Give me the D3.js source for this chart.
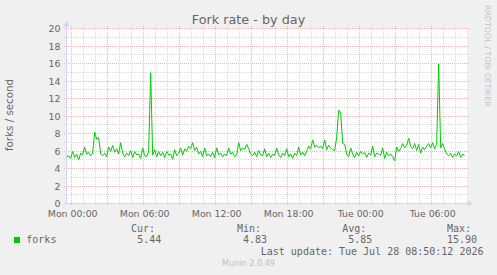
<!DOCTYPE html>
<html>
<head>
<meta charset="utf-8">
<script src="https://cdn.jsdelivr.net/npm/d3@7"></script>
<style>
  html, body { margin: 0; padding: 0; background: #f0f0f0; }
  svg { display: block; }
</style>
</head>
<body>
<svg></svg>
<script>
const WIDTH = 497;
const HEIGHT = 275;
const PLOT = { left: 67, right: 467, top: 28, bottom: 203 };

// samples every 10 minutes, first one Sun 26 Jul 23:35 UTC
const sampleStart = Date.UTC(2026, 6, 26, 23, 35);
const sampleMinutes = 10;
const forks = [
  5.3, 5.4, 5.1, 5.9, 5.2, 5.6, 4.9, 5.7, 5.5, 6.4, 5.6, 5.8,
  5.4, 5.7, 8.1, 7.3, 7.5, 5.6, 5.4, 5.7, 5.3, 6.4, 5.9, 6.6,
  5.8, 6.2, 5.6, 6.9, 5.7, 5.3, 5.7, 5.4, 6.0, 5.2, 5.9, 5.5,
  5.6, 5.1, 6.3, 5.4, 5.3, 5.9, 14.9, 5.5, 6.1, 5.3, 5.9, 5.4,
  5.8, 5.2, 5.9, 5.5, 5.6, 5.0, 6.1, 5.4, 5.7, 6.3, 5.5, 6.2,
  5.9, 6.5, 6.2, 6.9, 6.0, 6.4, 5.6, 5.9, 5.3, 6.3, 5.4, 5.6,
  5.3, 5.8, 5.2, 6.3, 5.5, 5.7, 5.3, 5.6, 5.4, 6.3, 5.6, 5.8,
  5.3, 5.5, 6.9, 6.0, 6.3, 6.1, 6.7, 6.2, 5.6, 5.4, 5.8, 5.3,
  6.0, 5.5, 5.4, 6.2, 5.3, 5.7, 5.2, 5.6, 5.4, 6.3, 5.5, 5.2,
  5.7, 5.4, 6.2, 5.3, 5.6, 5.1, 5.7, 5.4, 6.4, 5.5, 5.8, 5.4,
  5.9, 6.5, 6.2, 7.2, 6.4, 6.6, 6.3, 6.5, 6.2, 7.2, 6.1, 6.6,
  6.3, 6.1, 6.0, 7.5, 10.6, 10.4, 6.8, 6.7, 5.6, 5.3, 6.3, 5.6,
  5.2, 5.8, 5.4, 5.9, 5.6, 5.8, 5.2, 5.7, 5.5, 6.5, 5.3, 5.7,
  5.6, 5.4, 6.3, 5.1, 5.8, 5.4, 5.6, 5.3, 4.83, 6.4, 5.9, 6.2,
  6.8, 6.3, 6.6, 7.4, 6.5, 6.2, 6.8, 6.0, 6.7, 5.7, 6.4, 6.1,
  6.5, 6.8, 6.3, 6.9, 6.2, 6.7, 15.9, 6.3, 6.8, 6.1, 5.6, 5.4,
  5.7, 5.2, 5.6, 5.4, 5.9, 5.2, 5.6, 5.44
];

const yTicks = [0, 2, 4, 6, 8, 10, 12, 14, 16, 18, 20];
const xTickTimes = ['2026-07-27T00:00:00Z', '2026-07-27T06:00:00Z', '2026-07-27T12:00:00Z',
                    '2026-07-27T18:00:00Z', '2026-07-28T00:00:00Z', '2026-07-28T06:00:00Z'];
const xTickLabels = ['Mon 00:00', 'Mon 06:00', 'Mon 12:00', 'Mon 18:00', 'Tue 00:00', 'Tue 06:00'];
const legendHeads = ['Cur:', 'Min:', 'Avg:', 'Max:'];
const legendValues = ['5.44', '4.83', '5.85', '15.90'];

const SANS = 'DejaVu Sans, sans-serif';
const MONO = 'DejaVu Sans Mono, monospace';
const FONT = '#666666';
const AXIS = '#cfd6f8';
const GRID_MINOR = '#dcdcdc';
const GRID_MAJOR = '#eeb8b8';

const svg = d3.select('svg').attr('width', WIDTH).attr('height', HEIGHT);
svg.append('rect').attr('width', WIDTH).attr('height', HEIGHT).attr('fill', '#f0f0f0');

// 400 px = 400 x 5 min
const x = d3.scaleUtc()
  .domain([new Date(Date.UTC(2026, 6, 26, 23, 36, 40)), new Date(Date.UTC(2026, 6, 28, 8, 56, 40))])
  .range([PLOT.left, PLOT.right]);
const y = d3.scaleLinear().domain([0, 20]).range([PLOT.bottom, PLOT.top]);

svg.append('rect')
  .attr('x', PLOT.left).attr('y', PLOT.top)
  .attr('width', PLOT.right - PLOT.left).attr('height', PLOT.bottom - PLOT.top)
  .attr('fill', '#ffffff');

const grid = svg.append('g').attr('shape-rendering', 'crispEdges');

// horizontal grid, minor every 1, major every 2
const yMinor = d3.range(1, 21);
grid.selectAll('line.hy')
  .data(yMinor)
  .enter()
  .append('line')
  .attr('x1', PLOT.left - 3).attr('x2', PLOT.right + 2)
  .attr('y1', (d) => Math.round(y(d)) + 0.5)
  .attr('y2', (d) => Math.round(y(d)) + 0.5)
  .attr('stroke', (d) => (d % 2 === 0 ? GRID_MAJOR : GRID_MINOR))
  .attr('stroke-dasharray', '1,1');

// vertical grid, minor every hour, major every 3 hours
const hours = d3.utcHour.range(x.domain()[0], x.domain()[1]);
grid.selectAll('line.vx')
  .data(hours)
  .enter()
  .append('line')
  .attr('x1', (d) => Math.floor(x(d)) + 0.5)
  .attr('x2', (d) => Math.floor(x(d)) + 0.5)
  .attr('y1', PLOT.top - 2).attr('y2', PLOT.bottom + 3)
  .attr('stroke', (d) => (d.getUTCHours() % 3 === 0 ? GRID_MAJOR : GRID_MINOR))
  .attr('stroke-dasharray', '1,1');

// axes lines with arrows
const axes = svg.append('g');
axes.append('line')
  .attr('x1', 66.5).attr('x2', 66.5).attr('y1', 24).attr('y2', 204)
  .attr('stroke', AXIS).attr('shape-rendering', 'crispEdges');
axes.append('path').attr('d', 'M66.5,20.5 L63.5,26.5 L69.5,26.5 Z').attr('fill', AXIS);
axes.append('line')
  .attr('x1', 64).attr('x2', 470).attr('y1', 203.5).attr('y2', 203.5)
  .attr('stroke', AXIS).attr('shape-rendering', 'crispEdges');
axes.append('path').attr('d', 'M473.5,203.5 L467.5,200.5 L467.5,206.5 Z').attr('fill', AXIS);

// data line
const line = d3.line()
  .x((d, i) => x(new Date(sampleStart + i * sampleMinutes * 60000)))
  .y((d) => y(d));
svg.append('path')
  .datum(forks)
  .attr('d', line)
  .attr('fill', 'none')
  .attr('stroke', '#00cc00')
  .attr('stroke-width', 1);

// tick labels
const yAxis = svg.append('g')
  .attr('transform', 'translate(60.5,0.5)')
  .call(d3.axisLeft(y).tickValues(yTicks).tickSize(0).tickPadding(0));
const xAxis = svg.append('g')
  .attr('transform', `translate(0.5,${PLOT.bottom})`)
  .call(d3.axisBottom(x)
    .tickValues(xTickTimes.map((t) => new Date(t)))
    .tickFormat((d, i) => xTickLabels[i])
    .tickSize(0).tickPadding(7));
[yAxis, xAxis].forEach((g) => {
  g.select('.domain').remove();
  g.selectAll('text').attr('fill', FONT).style('font-family', SANS).style('font-size', '9.4px');
});

// titles
svg.append('text')
  .attr('x', 248.5).attr('y', 24)
  .attr('text-anchor', 'middle')
  .attr('fill', FONT)
  .style('font-family', SANS).style('font-size', '12.8px')
  .text('Fork rate - by day');

svg.append('text')
  .attr('transform', 'translate(13,115) rotate(-90)')
  .attr('text-anchor', 'middle')
  .attr('fill', FONT)
  .style('font-family', SANS).style('font-size', '10.3px')
  .text('forks / second');

svg.append('text')
  .attr('transform', 'translate(485,5) rotate(90)')
  .attr('fill', '#c4c4c4')
  .style('font-family', SANS).style('font-size', '7.9px')
  .text('RRDTOOL / TOBI OETIKER');

// legend
const legend = svg.append('g').attr('fill', FONT).style('font-family', MONO).style('font-size', '10px');
legend.append('rect').attr('x', 14).attr('y', 237).attr('width', 6).attr('height', 6).attr('fill', '#00cc00');
legend.append('text').attr('x', 26.3).attr('y', 243.3).text('forks');
const headEnds = [155, 261, 366.3, 471];
const valueEnds = [161.3, 267, 372.4, 477];
legend.selectAll('text.head')
  .data(legendHeads)
  .enter()
  .append('text')
  .attr('x', (d, i) => headEnds[i]).attr('y', 231.5)
  .attr('text-anchor', 'end')
  .text((d) => d);
legend.selectAll('text.val')
  .data(legendValues)
  .enter()
  .append('text')
  .attr('x', (d, i) => valueEnds[i]).attr('y', 243.3)
  .attr('text-anchor', 'end')
  .text((d) => d);
legend.append('text')
  .attr('x', 483.5).attr('y', 255)
  .attr('text-anchor', 'end')
  .text('Last update: Tue Jul 28 08:50:12 2026');

svg.append('text')
  .attr('x', 248.5).attr('y', 266.3)
  .attr('text-anchor', 'middle')
  .attr('fill', '#c0c0c0')
  .style('font-family', SANS).style('font-size', '8.1px')
  .text('Munin 2.0.49');
</script>
</body>
</html>
